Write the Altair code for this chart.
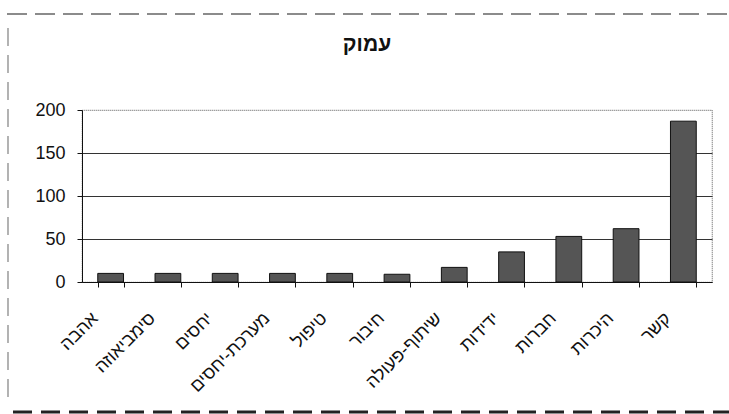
import altair as alt
import pandas as pd

# Word frequencies for the "עמוק" category
title_text = "עמוק"
categories = ["אהבה", "סימביאוזה", "יחסים", "מערכת-יחסים", "טיפול", "חיבור",
              "שיתוף-פעולה", "ידידות", "חברות", "היכרות", "קשר"]
counts = [10, 10, 10, 10, 10, 9, 17, 35, 53, 62, 187]
y_ticks = [0, 50, 100, 150, 200]

df = pd.DataFrame({"term": categories, "count": counts})

W, H = 630, 172
LEFT, TOP = 82, 110
FONT = "Liberation Sans"

bars = alt.Chart(df).mark_bar(color="#555555", stroke="#111111", strokeWidth=1).encode(
    x=alt.X(
        "term:N", sort=categories, title=None,
        scale=alt.Scale(paddingInner=0.55, paddingOuter=0.275),
        axis=alt.Axis(labelAngle=-45, tickBand="extent", labelFont=FONT,
                      labelFontSize=18, labelColor="#111111", domainColor="#111111",
                      tickColor="#111111", tickSize=5, labelPadding=22,
                      labelOffset=-22, labelLimit=200),
    ),
    y=alt.Y(
        "count:Q", title=None, scale=alt.Scale(domain=[0, 200]),
        axis=alt.Axis(values=y_ticks, labelFont=FONT, labelFontSize=18,
                      labelColor="#111111", domainColor="#111111",
                      tickColor="#111111", tickSize=5, labelPadding=12,
                      gridColor="#333333", gridWidth=1,
                      gridOpacity={"condition": {"test": "datum.value >= 200", "value": 0},
                                   "value": 1}),
    ),
)

frame_src = pd.DataFrame({"k": [0]})

# chart heading, set above the plot area
heading = alt.Chart(frame_src).mark_text(
    font=FONT, fontSize=21, fontWeight="bold", color="#111111",
    align="center", baseline="middle",
).encode(x=alt.value(367 - LEFT), y=alt.value(45 - TOP), text=alt.value(title_text))

# dashed page frame around the figure
top_line = alt.Chart(frame_src).mark_rule(
    color="#666666", strokeWidth=1.5, strokeDash=[20, 8]
).encode(x=alt.value(7 - LEFT), x2=alt.value(729 - LEFT), y=alt.value(14 - TOP))

left_line = alt.Chart(frame_src).mark_rule(
    color="#8a8a8a", strokeWidth=1.3, strokeDash=[18, 9]
).encode(x=alt.value(8 - LEFT), y=alt.value(28 - TOP), y2=alt.value(402 - TOP))

bottom_line = alt.Chart(frame_src).mark_rule(
    color="#222222", strokeWidth=3, strokeDash=[19, 9]
).encode(x=alt.value(13 - LEFT), x2=alt.value(729 - LEFT), y=alt.value(412 - TOP))

chart = alt.layer(bars, heading, top_line, left_line, bottom_line).properties(
    width=W, height=H,
    autosize=alt.AutoSizeParams(type="none"),
    padding={"left": LEFT, "top": TOP, "right": 729 - LEFT - W, "bottom": 414 - TOP - H},
    background="white",
).configure_view(stroke="#777777", strokeDash=[1, 1], strokeWidth=1.2)

chart.save("out.html", embed_options={"renderer": "svg", "actions": False})
